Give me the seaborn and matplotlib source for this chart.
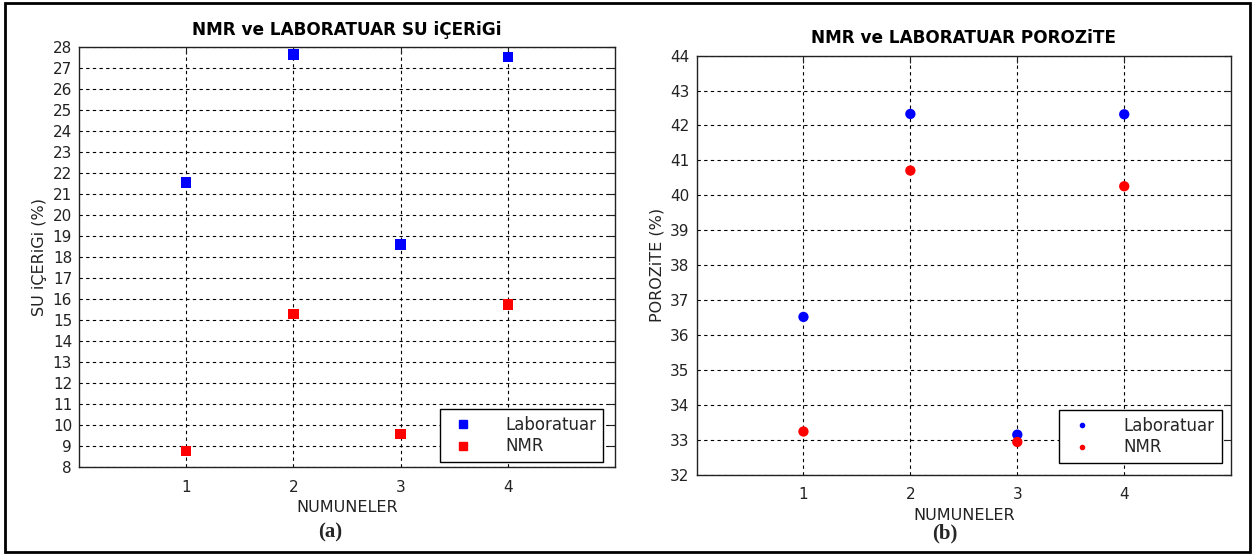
import matplotlib
matplotlib.use("Agg")
import matplotlib.pyplot as plt
import seaborn as sns
import pandas as pd
from matplotlib.patches import Rectangle
from matplotlib.lines import Line2D

# ---- data ----
samples = [1, 2, 3, 4]
su_lab = [21.55, 27.65, 18.6, 27.52]
su_nmr = [8.75, 15.3, 9.59, 15.75]
por_lab = [36.52, 42.33, 33.15, 42.32]
por_nmr = [33.24, 40.71, 32.94, 40.26]
series = ["Laboratuar", "NMR"]
colors = {"Laboratuar": "#0000ff", "NMR": "#ff0000"}

sns.set_theme(style="white")
plt.rcParams["font.family"] = ["DejaVu Sans"]

fig = plt.figure(figsize=(12.55, 5.56), dpi=100)
fig.patch.set_facecolor("white")

ax1 = fig.add_axes([0.063, 0.160, 0.427, 0.755])
ax2 = fig.add_axes([0.555, 0.146, 0.426, 0.754])

df1 = pd.DataFrame({"x": samples * 2, "y": su_lab + su_nmr,
                    "s": [series[0]] * 4 + [series[1]] * 4})
df2 = pd.DataFrame({"x": samples * 2, "y": por_lab + por_nmr,
                    "s": [series[0]] * 4 + [series[1]] * 4})

sns.scatterplot(data=df1, x="x", y="y", hue="s", palette=colors, marker="s",
                s=55, linewidth=0, ax=ax1, legend=False, zorder=3)
sns.scatterplot(data=df2, x="x", y="y", hue="s", palette=colors, marker="o",
                s=55, linewidth=0, ax=ax2, legend=False, zorder=3)

def style(ax, ylim, yticks, title, ylabel, tpad):
    ax.set_xlim(0, 5)
    ax.set_ylim(*ylim)
    ax.set_xticks(samples)
    ax.set_yticks(yticks)
    ax.grid(True, color="black", linestyle=(0, (3, 3)), linewidth=0.8)
    ax.set_axisbelow(True)
    for sp in ax.spines.values():
        sp.set_color("#222222")
        sp.set_linewidth(1.0)
        sp.set_visible(True)
    ax.tick_params(direction="in", length=5, width=0.8, top=True, right=True,
                   labelsize=11, colors="#222222", pad=5)
    ax.tick_params(axis="x", pad=9)
    ax.set_title(title, fontsize=12.2, fontweight="bold", pad=tpad, color="black")
    ax.set_xlabel("NUMUNELER", fontsize=11.5, labelpad=4, color="#222222")
    ax.set_ylabel(ylabel, fontsize=11.5, labelpad=4, color="#222222")

style(ax1, (8, 28), range(8, 29), "NMR ve LABORATUAR SU iÇERiGi", "SU iÇERiGi (%)", 9)
style(ax2, (32, 44), range(32, 45), "NMR ve LABORATUAR POROZiTE", "POROZiTE (%)", 9)

h1 = [Line2D([], [], marker="s", linestyle="none", color=colors[s], markersize=6) for s in series]
h2 = [Line2D([], [], marker="o", linestyle="none", color=colors[s], markersize=3) for s in series]
for ax, h, anchor in ((ax1, h1, (0.977, 0.012)), (ax2, h2, (0.982, 0.028))):
    leg = ax.legend(h, series, loc="lower right", bbox_to_anchor=anchor,
                    fontsize=12, frameon=True, fancybox=False, edgecolor="black",
                    framealpha=1, borderpad=0.4, handletextpad=1.5,
                    handlelength=2.0, labelspacing=0.2, borderaxespad=0)
    leg.get_frame().set_linewidth(1.0)

fig.text(0.263, 0.043, "(a)", fontsize=15, fontweight="bold",
         family="Liberation Serif", ha="center", va="center")
fig.text(0.753, 0.041, "(b)", fontsize=15, fontweight="bold",
         family="Liberation Serif", ha="center", va="center")

fig.patches.append(Rectangle((0.004, 0.007), 0.992, 0.987, transform=fig.transFigure,
                             fill=False, edgecolor="black", linewidth=2.0))

fig.savefig("out.png", dpi=100)
